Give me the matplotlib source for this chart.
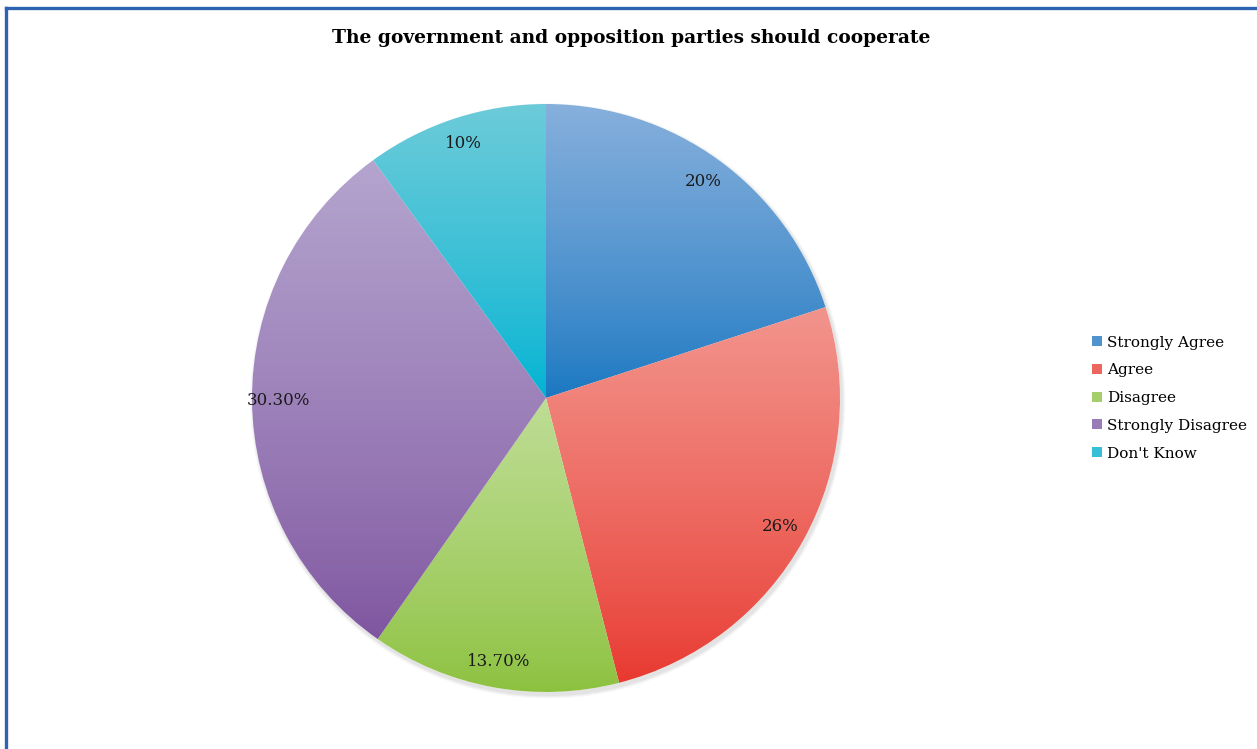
import numpy as np
import matplotlib
matplotlib.use('Agg')
import matplotlib.pyplot as plt
from matplotlib.colors import LinearSegmentedColormap, to_rgb
from matplotlib.patches import Patch, Circle
from matplotlib.lines import Line2D

# survey answers
categories = ['Strongly Agree', 'Agree', 'Disagree', 'Strongly Disagree', "Don't Know"]
shares = [20, 26, 13.7, 30.3, 10]
pct_labels = ['20%', '26%', '13.70%', '30.30%', '10%']

# gradient ends for each slice (top -> bottom)
top_colors = ['#86afdc', '#f2948c', '#bedd95', '#b4a4ce', '#6ccbd9']
bottom_colors = ['#1877c1', '#e8372e', '#8cc13e', '#7e549f', '#00b3d3']

W, H = 1257, 749
CX, CY, HALF = 546, 398, 300
R = 294 / HALF

fig = plt.figure(figsize=(W / 100, H / 100), dpi=100)
fig.patch.set_facecolor('white')

ax = fig.add_axes([(CX - HALF) / W, (H - CY - HALF) / H, 2 * HALF / W, 2 * HALF / H])

# soft drop shadow under the pie
for k, a in enumerate([0.10, 0.08, 0.06]):
    ax.add_patch(Circle((0.006, -0.010), R + 0.004 * (k + 1), color='#888888',
                        alpha=a, lw=0, zorder=0))

wedges, _ = ax.pie(shares, radius=R, startangle=90, counterclock=False,
                   colors=['none'] * len(shares), wedgeprops=dict(lw=0))

# light part of the fill lasts a bit longer than a plain linear ramp
grad = (np.linspace(0, 1, 256) ** 0.8)[:, None]
for w, c_top, c_bot in zip(wedges, top_colors, bottom_colors):
    w.set_facecolor('white')
    w.set_zorder(1)
    ext = w.get_path().get_extents()
    cmap = LinearSegmentedColormap.from_list('g', [c_bot, c_top])
    im = ax.imshow(grad, extent=(ext.x0, ext.x1, ext.y0, ext.y1), origin='lower',
                   cmap=cmap, vmin=0, vmax=1, aspect='auto',
                   interpolation='bilinear', zorder=2)
    im.set_clip_path(w)

# percentage labels near the rim
start = 90.0
total = sum(shares)
for v, lab in zip(shares, pct_labels):
    span = 360.0 * v / total
    mid = np.deg2rad(start - span / 2)
    start -= span
    ax.text(0.91 * R * np.cos(mid), 0.91 * R * np.sin(mid), lab,
            ha='center', va='center', fontsize=12, family='DejaVu Serif',
            color='#1a1a1a', zorder=5)

ax.set_xlim(-1, 1)
ax.set_ylim(-1, 1)
ax.set_aspect('auto')
ax.axis('off')

fig.text(631 / W, 1 - 38 / H, 'The government and opposition parties should cooperate',
         ha='center', va='center', fontsize=13.4, fontweight='bold',
         family='DejaVu Serif', color='black')

mid_colors = []
for c_top, c_bot in zip(top_colors, bottom_colors):
    mid_colors.append(tuple(0.5 * (a + b) for a, b in zip(to_rgb(c_top), to_rgb(c_bot))))
handles = [Patch(facecolor=c, edgecolor='none') for c in mid_colors]
fig.legend(handles, categories, loc='center left',
           bbox_to_anchor=(1092 / W, 1 - 398 / H), frameon=False,
           prop=dict(family='DejaVu Serif', size=11),
           handlelength=0.65, handleheight=0.65, handletextpad=0.35,
           labelspacing=0.9, borderaxespad=0, borderpad=0)

# blue frame on the left and top edge
fig.add_artist(Line2D([6 / W, 6 / W], [0, 1 - 7.5 / H], color='#2e63b1', lw=2.4,
                      transform=fig.transFigure))
fig.add_artist(Line2D([6 / W, 1], [1 - 7.5 / H, 1 - 7.5 / H], color='#2e63b1', lw=2.4,
                      transform=fig.transFigure))

fig.savefig('out.png', dpi=100)
